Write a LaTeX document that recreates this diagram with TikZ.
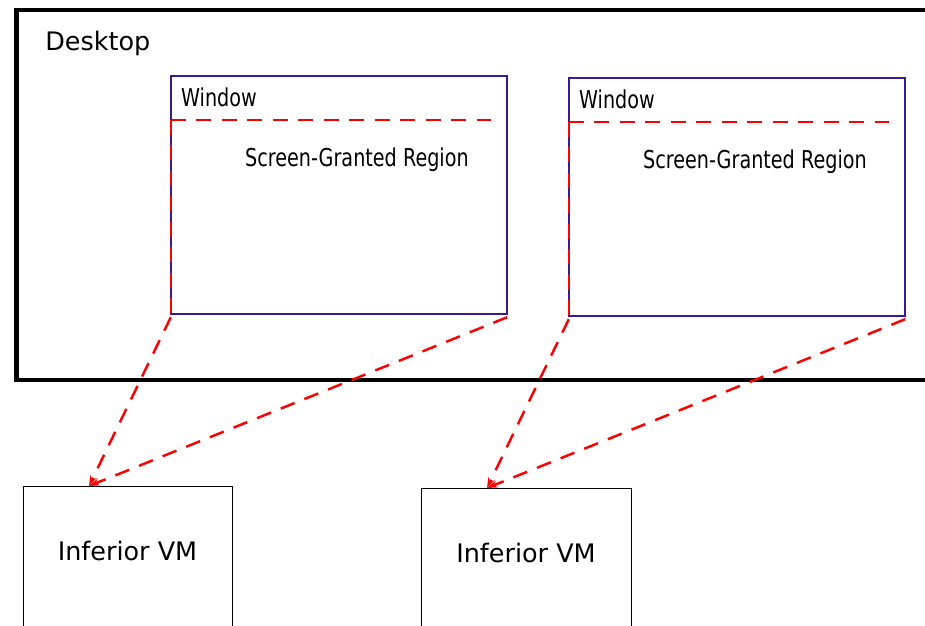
\documentclass[tikz,border=0pt]{standalone}
\usepackage{fontspec}
\setmainfont{DejaVu Sans}
\newfontfamily\narrowfont[FakeStretch=0.78]{DejaVu Sans}
\usetikzlibrary{arrows.meta}
\definecolor{winblue}{RGB}{58,26,140}
\tikzset{
  desk/.style={draw, line width=2.8pt, inner sep=0pt},
  winbox/.style={draw=winblue, line width=1.4pt, inner sep=0pt, minimum width=6.72cm, minimum height=4.76cm},
  vmbox/.style={draw, line width=0.7pt, inner sep=0pt, minimum height=4cm, anchor=north west},
  granted/.style={red, line width=1.4pt, dash pattern=on 8.5pt off 6pt},
  biglabel/.style={font=\fontsize{14.5}{17}\selectfont, inner sep=0pt},
  winlabel/.style={font=\narrowfont\fontsize{14}{16}\selectfont, inner sep=0pt, anchor=base west}
}
\begin{document}
\begin{tikzpicture}[x=0.02cm, y=-0.02cm]
\clip (0,0) rectangle (925,625);
\fill[white] (0,0) rectangle (925,625);
% the desktop, running off the right edge
\node[desk, minimum width=18.38cm, minimum height=7.4cm] (desk) at (475.5,195) {};
\node[biglabel, anchor=base west] (desklbl) at (45,51) {Desktop};
% windows and the VMs behind them
\node[winbox] (win1) at (339,195) {};
\node[winbox] (win2) at (737,197) {};
\node[vmbox, minimum width=4.18cm] (vm1) at (23,486) {};
\node[vmbox, minimum width=4.2cm] (vm2) at (421,488) {};
\node[biglabel, anchor=base] (vmlbl1) at (127.5,560) {Inferior VM};
\node[biglabel, anchor=base] (vmlbl2) at (526,562) {Inferior VM};
\foreach \w in {1,2} {
  \node[winlabel] (wlbl\w) at ([shift={(11,32)}]win\w.north west) {Window};
  \node[winlabel] (reg\w) at ([shift={(75,92)}]win\w.north west) {Screen-Granted Region};
  \draw[granted] ([shift={(1,45)}]win\w.north west) -- ([shift={(-7,45)}]win\w.north east);
  \draw[granted] ([shift={(1,45)}]win\w.north west) -- ([shift={(1,0)}]win\w.south west);
  \coordinate (tip\w) at ([shift={(66,0)}]vm\w.north west);
  \draw[granted, -{Stealth[length=6pt, width=4pt]}] ([shift={(1,2)}]win\w.south west) -- (tip\w);
  \draw[granted, -{Stealth[length=6pt, width=4pt]}] ([shift={(-1,2)}]win\w.south east) -- (tip\w);
}
\end{tikzpicture}
\end{document}
